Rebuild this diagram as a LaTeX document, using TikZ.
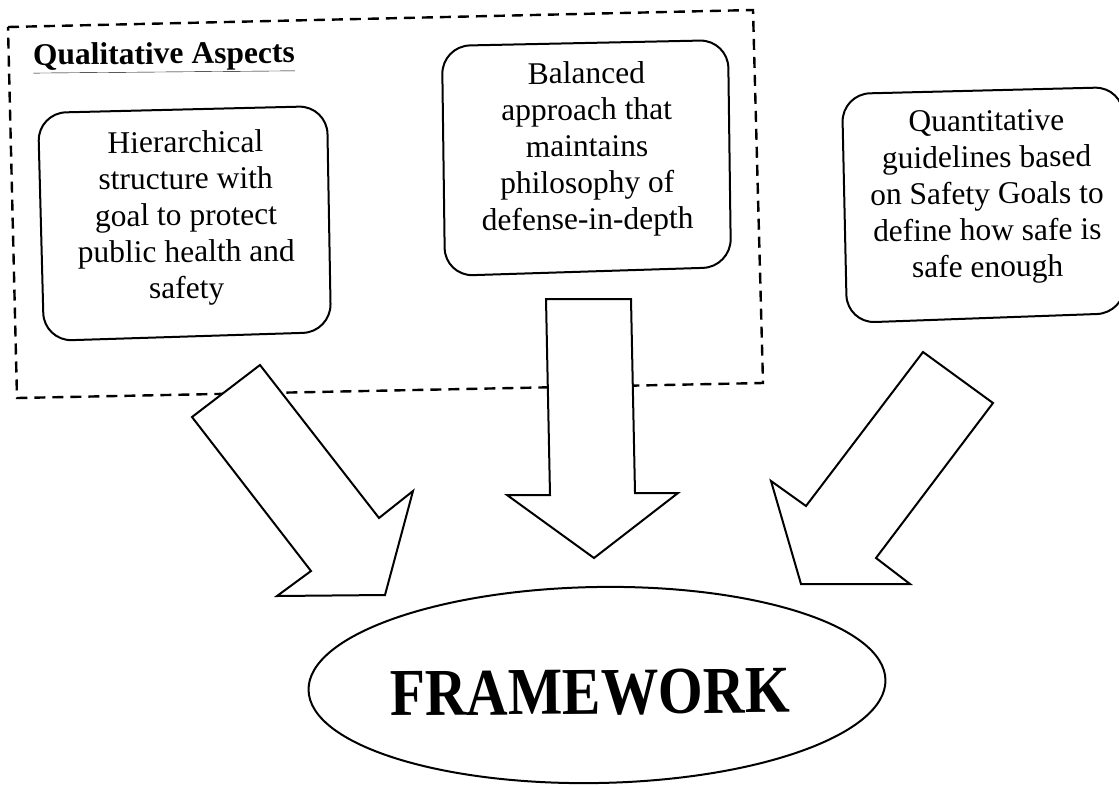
\documentclass[tikz,border=0pt]{standalone}
\usepackage{fontspec}
\setmainfont{Liberation Serif}
\usetikzlibrary{shapes.geometric}
\begin{document}
\begin{tikzpicture}[x=1pt,y=-1pt,
  panel/.style={draw=black, line width=2pt, rounded corners=28pt},
  blockarrow/.style={draw=black, fill=white, line width=2pt, line join=miter},
  boxtext/.style={align=center, font=\fontsize{31.5}{36.5}\selectfont, inner sep=0pt, rotate=0.5},
  groupframe/.style={draw=black, line width=2.4pt, dash pattern=on 11pt off 7pt}]
\useasboundingbox (0,0) rectangle (1119,785);

% frame grouping the qualitative aspects
\draw[groupframe] (8,27) -- (753,10) -- (763,383) -- (17,398) -- cycle;
\node[anchor=base west, inner sep=0pt, rotate=0.5,
      font=\fontsize{31.5}{36}\selectfont\bfseries] (qa) at (33,65) {\underline{Qualitative Aspects}};

% rounded panels
\draw[panel] (38,113) -- (327,106) -- (331,332) -- (44,341) -- cycle;
\draw[panel] (442,46) -- (728,40) -- (731,267) -- (445,276) -- cycle;
\draw[panel] (842,94) -- (1123,87) -- (1125,313) -- (847,323) -- cycle;

\node[boxtext] (t1) at (186,218) {Hierarchical\\structure with\\goal to protect\\public health and\\safety};
\node[boxtext] (t2) at (587,149) {Balanced\\approach that\\maintains\\philosophy of\\defense-in-depth};
\node[boxtext] (t3) at (987,197) {Quantitative\\guidelines based\\on Safety Goals to\\define how safe is\\safe enough};

% block arrows pointing to the framework
\draw[blockarrow] (260,365) -- (192,417) -- (311,571) -- (277,596) -- (385,595) -- (413,491) -- (379,518) -- cycle;
\draw[blockarrow] (546,299) -- (550,495) -- (507,495) -- (594,558) -- (678,493) -- (635,493) -- (631,299) -- cycle;
\draw[blockarrow] (923,352) -- (806,506) -- (771,481) -- (801,584) -- (910,584) -- (876,558) -- (993,403) -- cycle;

% framework ellipse
\node[draw=black, ellipse, line width=2pt, minimum width=577pt, minimum height=196pt,
      inner sep=0pt, rotate=1] (fw) at (597,685) {};
\node[inner sep=0pt, rotate=0.5, xscale=0.86, font=\fontsize{67}{70}\selectfont\bfseries] (fwlabel) at (590,692.5) {FRAMEWORK};
\end{tikzpicture}
\end{document}
